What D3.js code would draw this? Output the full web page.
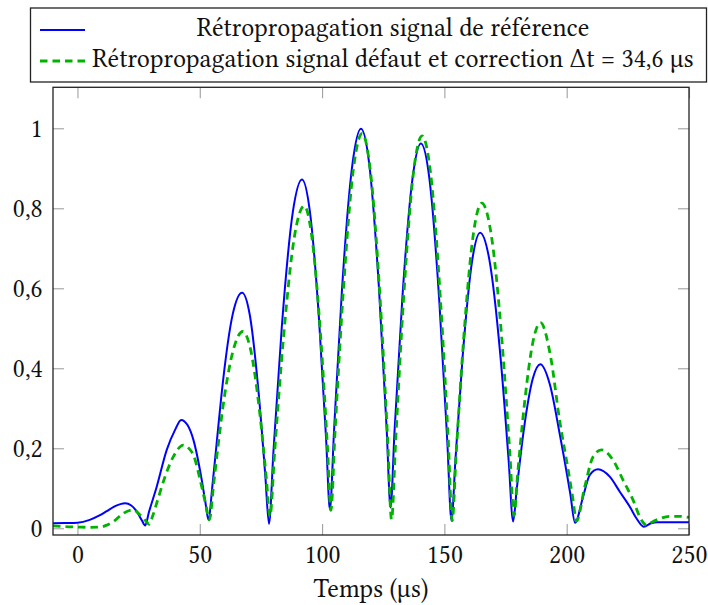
<!DOCTYPE html>
<html>
<head>
<meta charset="utf-8">
<script src="https://cdn.jsdelivr.net/npm/d3@7/dist/d3.min.js"></script>
<style>
  html, body { margin: 0; padding: 0; background: #fff; }
  svg { display: block; }
</style>
</head>
<body>
<svg id="chart" width="708" height="605"></svg>
<script>
// ---- data ----
const refTime = [-10,-5,0,5,9,12,15,19.5,22,24.3,26.3,27.7,
  29.2,32.4,36.5,39.9,42.4,45,47.4,50.8,52.3,53.5,
  55.3,56.9,58.9,63.5,67.3,70.4,74.0,76.8,78.3,
  80.1,83.55,88.05,91.8,94.97,98.77,101.68,103.2,
  104.9,108.1,112.4,115.9,119.3,123.3,126.4,128.0,
  129.6,132.8,137.0,140.4,143.9,148.0,151.2,152.9,
  154.5,157.5,161.4,164.6,168.4,172.9,176.3,178.1,
  179.6,182.4,186.1,189.2,193.1,197.1,201.5,203.4,
  206.7,209.4,212.8,217.6,221.7,225.8,228.5,231.5,
  234.5,237,241,245,250];
const refValue = [0.0125,0.013,0.014,0.021,0.032,0.043,0.054,0.0625,0.057,0.0415,0.02,0.007,
  0.04,0.104,0.196,0.246,0.271,0.258,0.221,0.121,0.065,0.022,
  0.115,0.2125,0.335,0.536,0.589,0.535,0.343,0.131,0.011,
  0.19,0.505,0.791,0.872,0.794,0.521,0.219,0.047,
  0.245,0.593,0.91,0.999,0.91,0.596,0.249,0.052,
  0.241,0.574,0.876,0.962,0.873,0.56,0.215,0.019,
  0.169,0.432,0.671,0.739,0.671,0.431,0.167,0.017,
  0.099,0.243,0.373,0.41,0.36,0.2375,0.085,0.014,
  0.079,0.133,0.1475,0.129,0.0915,0.054,0.025,0.004,
  0.0125,0.015,0.015,0.015,0.015];

const defTime = [-10,-5,0,5,9.3,12,14.7,18.8,22.9,25.6,28,29.3,
  30.7,32.4,35.8,39.2,43.3,45.5,47.4,50.8,52.6,53.9,
  55.7,57.6,59.2,63.8,67.6,70.7,74.4,77.2,78.7,
  80.6,84.2,88.8,92.7,95.7,99.4,102.2,103.6,
  105.3,108.6,112.8,116.4,119.7,123.7,126.8,128.4,
  130.1,133.3,137.4,140.9,144.3,148.4,151.6,153.2,
  154.8,157.9,161.9,165.3,169.0,173.4,176.7,178.5,
  179.9,182.7,186.3,189.3,193.4,197.1,200.6,202.5,204.0,
  207.4,210.8,214.2,218.9,223,227.1,230.5,232.6,
  235,238,242,246,250];
const defValue = [0.006,0.004,0.003,0.0025,0.003,0.008,0.0165,0.0375,0.046,0.033,0.018,0.01,
  0.03,0.063,0.129,0.179,0.208,0.2,0.183,0.104,0.055,0.021,
  0.112,0.2125,0.291,0.448,0.492,0.449,0.295,0.126,0.03,
  0.191,0.475,0.733,0.806,0.734,0.482,0.203,0.045,
  0.241,0.586,0.898,0.987,0.896,0.576,0.223,0.022,
  0.221,0.572,0.891,0.981,0.891,0.571,0.219,0.019,
  0.184,0.475,0.738,0.813,0.74,0.48,0.194,0.032,
  0.132,0.309,0.469,0.514,0.43,0.27,0.146,0.075,0.018,
  0.104,0.179,0.196,0.171,0.121,0.071,0.021,0.008,
  0.016,0.024,0.03,0.03,0.027];

const xTicks = [0,50,100,150,200,250];
const yTicks = [0,0.2,0.4,0.6,0.8,1];
const legendLabels = ["Rétropropagation signal de référence",
                      "Rétropropagation signal défaut et correction Δt = 34,6 µs"];
const xLabel = "Temps (µs)";

// ---- layout ----
const FONT = "'Libertinus Serif', 'Liberation Serif', serif";
const svg = d3.select("#chart");
const L = 53, R = 689, T = 87.3, B = 535;
const x = d3.scaleLinear().domain([-10, 250]).range([L, R]);
const y = d3.scaleLinear().domain([-0.0168, 1.1025]).range([B, T]);

// font size fitted so that the long legend entry spans the reference width
const probe = svg.append("text").style("font-family", FONT).attr("font-size", 100).text(legendLabels[1]);
const fs = Math.min(26, Math.max(18, 100 * 602 / probe.node().getComputedTextLength()));
probe.remove();

svg.append("defs").append("clipPath").attr("id","clip")
  .append("rect").attr("x",L).attr("y",T).attr("width",R-L).attr("height",B-T);

const fmtY = d => d3.format("~g")(d).replace(".", ",");

function styleAxis(g){
  g.select(".domain").remove();
  g.selectAll(".tick line").attr("stroke","#a0a0a0").attr("stroke-width",1.1);
  g.selectAll(".tick text").attr("font-size", fs).style("font-family", FONT).attr("fill","#111");
}

svg.append("g").attr("transform",`translate(0,${B})`)
  .call(d3.axisBottom(x).tickValues(xTicks).tickSize(-11).tickPadding(9.7).tickFormat(d3.format("d")))
  .call(styleAxis);
svg.append("g").attr("transform",`translate(0,${T})`)
  .call(d3.axisTop(x).tickValues(xTicks).tickSize(-11).tickFormat(""))
  .call(styleAxis);
svg.append("g").attr("transform",`translate(${L},0)`)
  .call(d3.axisLeft(y).tickValues(yTicks).tickSize(-11).tickPadding(10.3).tickFormat(fmtY))
  .call(styleAxis);
svg.append("g").attr("transform",`translate(${R},0)`)
  .call(d3.axisRight(y).tickValues(yTicks).tickSize(-11).tickFormat(""))
  .call(styleAxis);

// ---- lines ----
const line = d3.line().x(d => x(d[0])).y(d => y(d[1])).curve(d3.curveMonotoneX);
const refData = refTime.map((t,i) => [t, refValue[i]]);
const defData = defTime.map((t,i) => [t, defValue[i]]);
const plot = svg.append("g").attr("clip-path","url(#clip)");
plot.append("path").datum(refData).attr("d", line)
  .attr("fill","none").attr("stroke","#0000ff").attr("stroke-width",2);
plot.append("path").datum(defData).attr("d", line)
  .attr("fill","none").attr("stroke","#00b300").attr("stroke-width",2.8)
  .attr("stroke-dasharray","7.5,5");

// ---- frame ----
svg.append("rect").attr("x",L).attr("y",T).attr("width",R-L).attr("height",B-T)
  .attr("fill","none").attr("stroke","#222").attr("stroke-width",1.3);

// ---- x label ----
svg.append("text").attr("x",(L+R)/2).attr("y",597).attr("text-anchor","middle")
  .style("font-family", FONT).attr("fill","#111").attr("font-size",fs).text(xLabel);

// ---- legend ----
const lg = svg.append("g");
lg.append("rect").attr("x",30.5).attr("y",8).attr("width",676).attr("height",74)
  .attr("fill","#fff").attr("stroke","#222").attr("stroke-width",1.3);
lg.append("line").attr("x1",40).attr("x2",85).attr("y1",30).attr("y2",30)
  .attr("stroke","#0000ff").attr("stroke-width",2);
lg.append("line").attr("x1",40).attr("x2",87.5).attr("y1",61).attr("y2",61)
  .attr("stroke","#00b300").attr("stroke-width",2.8).attr("stroke-dasharray","7.5,5");
lg.append("text").attr("x",393).attr("y",35.7).attr("text-anchor","middle")
  .style("font-family", FONT).attr("fill","#111").attr("font-size",fs).text(legendLabels[0]);
lg.append("text").attr("x",393).attr("y",66.7).attr("text-anchor","middle")
  .style("font-family", FONT).attr("fill","#111").attr("font-size",fs).text(legendLabels[1]);
</script>
</body>
</html>
